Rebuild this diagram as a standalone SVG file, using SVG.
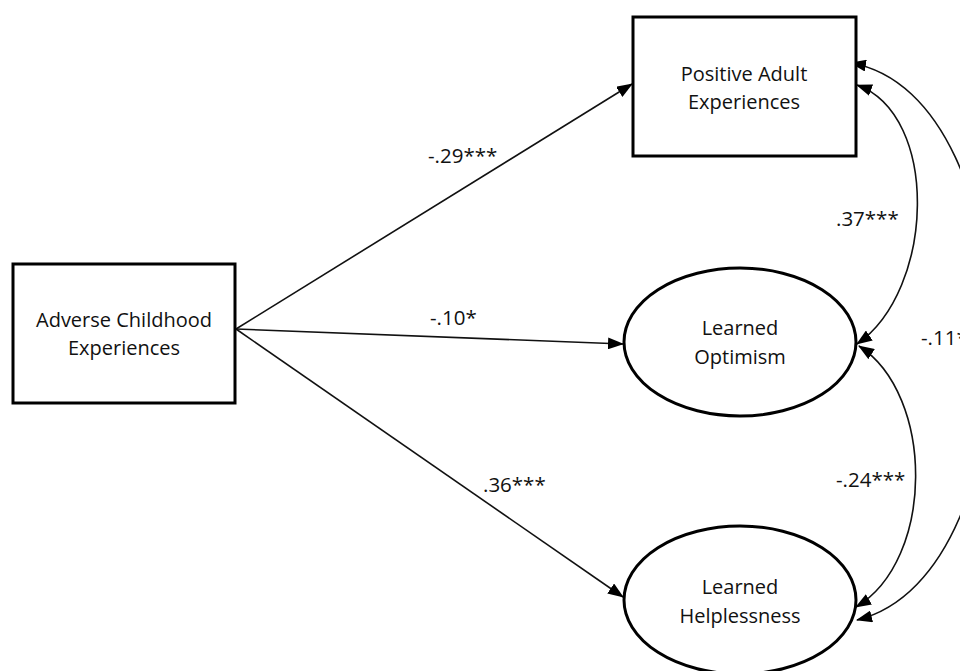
<svg xmlns="http://www.w3.org/2000/svg" width="960" height="671" viewBox="0 0 960 671">
<style>
.box{fill:#fff;stroke:#000;stroke-width:3}
.t{font-family:"Open Sans","Liberation Sans",sans-serif;font-size:20px;fill:#111;text-anchor:middle}
.lbl{font-family:"Open Sans","Liberation Sans",sans-serif;font-size:20.5px;fill:#111}
.c{fill:none;stroke:#111;stroke-width:1.6}
</style>
<defs>
<marker id="ah" markerUnits="userSpaceOnUse" markerWidth="16" markerHeight="12" viewBox="0 0 16 12" refX="15" refY="6" orient="auto-start-reverse">
<path d="M0,0 L16,6 L0,12 z" fill="#000"/>
</marker>
</defs>
<rect width="960" height="671" fill="#fff"/>
<g id="connectors">
<line class="c" x1="236" y1="329" x2="632" y2="84" marker-end="url(#ah)"/>
<line class="c" x1="236" y1="329" x2="623" y2="344" marker-end="url(#ah)"/>
<line class="c" x1="236" y1="329" x2="623" y2="597" marker-end="url(#ah)"/>
<path class="c" d="M857,85 C940,115 935,290 857,344" marker-start="url(#ah)" marker-end="url(#ah)"/>
<path class="c" d="M859,346 C935,395 935,560 856,607" marker-start="url(#ah)" marker-end="url(#ah)"/>
<path class="c" d="M851,63 C1035,95 1040,575 857,620" marker-start="url(#ah)" marker-end="url(#ah)"/>
<text class="lbl" x="428" y="163">-.29***</text>
<text class="lbl" x="430" y="325">-.10*</text>
<text class="lbl" x="483" y="492">.36***</text>
<text class="lbl" x="836" y="226">.37***</text>
<text class="lbl" x="836" y="487">-.24***</text>
<text class="lbl" x="921" y="345">-.11*</text>
</g>
<g id="adverse">
<rect class="box" x="13" y="264" width="222" height="139"/>
<text class="t" x="124" y="327">Adverse Childhood</text>
<text class="t" x="124" y="355">Experiences</text>
</g>
<g id="positive">
<rect class="box" x="633" y="17" width="223" height="139"/>
<text class="t" x="744" y="81">Positive Adult</text>
<text class="t" x="744" y="109">Experiences</text>
</g>
<g id="optimism">
<ellipse class="box" cx="740" cy="342" rx="116" ry="74"/>
<text class="t" x="740" y="335">Learned</text>
<text class="t" x="740" y="364">Optimism</text>
</g>
<g id="helplessness">
<ellipse class="box" cx="740" cy="600" rx="116" ry="74"/>
<text class="t" x="740" y="594">Learned</text>
<text class="t" x="740" y="623">Helplessness</text>
</g>
</svg>
